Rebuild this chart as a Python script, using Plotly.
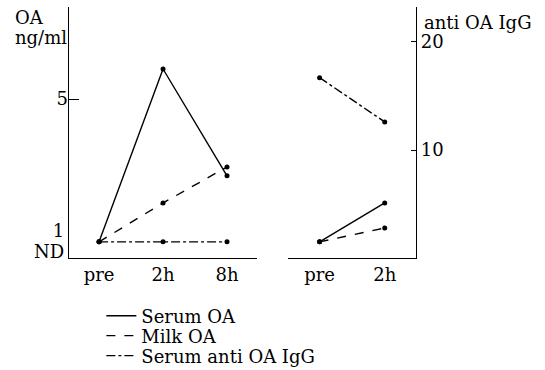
import plotly.graph_objects as go

# ---- data ----
times_left = ["pre", "2h", "8h"]
times_right = ["pre", "2h"]
ND = 0.67  # plotting level of "not detected"

serum_oa_left = [ND, 5.91, 2.67]
milk_oa_left = [ND, 1.85, 2.94]
igg_left = [ND, ND, ND]

serum_oa_right = [ND, 1.85]
milk_oa_right = [ND, 1.09]
igg_right = [16.7, 12.6]

oa_tickvals = [0.36, 1]
oa_ticktext = ["ND", "1"]
oa_tickmarks = [5]
igg_tickvals = [10, 20]

FONT = "DejaVu Serif"
BLACK = "black"

fig = go.Figure()

def add(x, y, dash, name, xa, ya, show, legend="legend"):
    # line (carries the legend entry, no marker in legend)
    fig.add_trace(go.Scatter(
        x=x, y=y, mode="lines", name=name, legendgroup=name,
        showlegend=show, xaxis=xa, yaxis=ya, legend=legend,
        line=dict(color=BLACK, width=1.4, dash=dash),
    ))
    # data points
    fig.add_trace(go.Scatter(
        x=x, y=y, mode="markers", name=name, legendgroup=name,
        showlegend=False, xaxis=xa, yaxis=ya,
        marker=dict(color=BLACK, size=5),
    ))

add(times_left, serum_oa_left, "solid", "Serum OA", "x", "y", True, "legend")
add(times_left, milk_oa_left, "dash", "Milk OA", "x", "y", True, "legend2")
add(times_left, igg_left, "dashdot", "Serum anti OA IgG", "x", "y4", True, "legend3")
add(times_right, serum_oa_right, "solid", "Serum OA", "x2", "y2", False)
add(times_right, milk_oa_right, "dash", "Milk OA", "x2", "y2", False)
add(times_right, igg_right, "dashdot", "Serum anti OA IgG", "x2", "y3", False)

oa_range = [0.18, 7.79]

leg = dict(xref="container", yref="container", x=0.186, xanchor="left",
           yanchor="top", font=dict(family=FONT, size=18, color=BLACK),
           bgcolor="rgba(0,0,0,0)")

fig.update_layout(
    width=545, height=370,
    margin=dict(l=69, r=129, t=7, b=112, autoexpand=False),
    paper_bgcolor="white", plot_bgcolor="white",
    font=dict(family=FONT, size=18, color=BLACK),
    xaxis=dict(domain=[0, 0.542], type="category", categoryarray=times_left,
               range=[-0.47, 2.47], showline=True, linecolor=BLACK, linewidth=1.4,
               ticks="", showgrid=False, zeroline=False, anchor="y"),
    yaxis=dict(range=oa_range, tickmode="array", tickvals=oa_tickvals,
               ticktext=oa_ticktext, ticks="", showline=True, linecolor=BLACK,
               linewidth=1.4, showgrid=False, zeroline=False, anchor="x"),
    yaxis4=dict(range=oa_range, overlaying="y", anchor="x", side="left",
                tickmode="array", tickvals=oa_tickmarks, ticks="inside",
                ticklen=10, tickwidth=1.4, tickcolor=BLACK,
                showticklabels=True, showgrid=False, zeroline=False,
                showline=False),
    xaxis2=dict(domain=[0.632, 1], type="category", categoryarray=times_right,
                range=[-0.48, 1.48], showline=True, linecolor=BLACK, linewidth=1.4,
                ticks="", showgrid=False, zeroline=False, anchor="y2"),
    yaxis2=dict(range=oa_range, visible=False, anchor="x2"),
    yaxis3=dict(range=[0, 23.24], overlaying="y2", side="right", anchor="x2",
                tickmode="array", tickvals=igg_tickvals, ticks="inside",
                ticklen=5, tickcolor=BLACK, tickwidth=1.4, showline=True,
                linecolor=BLACK, linewidth=1.4, showgrid=False, zeroline=False),
    legend=dict(leg, y=0.196),
    legend2=dict(leg, y=0.142),
    legend3=dict(leg, y=0.088),
    annotations=[
        dict(text="OA", xref="paper", yref="paper", x=-0.16, y=0.958,
             xanchor="left", yanchor="middle", showarrow=False),
        dict(text="ng/ml", xref="paper", yref="paper", x=-0.16, y=0.88,
             xanchor="left", yanchor="middle", showarrow=False),
        dict(text="anti OA IgG", xref="paper", yref="paper", x=1.018, y=0.94,
             xanchor="left", yanchor="middle", showarrow=False),
    ],
)

fig.write_html("out.html", config={"displayModeBar": False},
               post_script="document.body.style.margin='0';")
